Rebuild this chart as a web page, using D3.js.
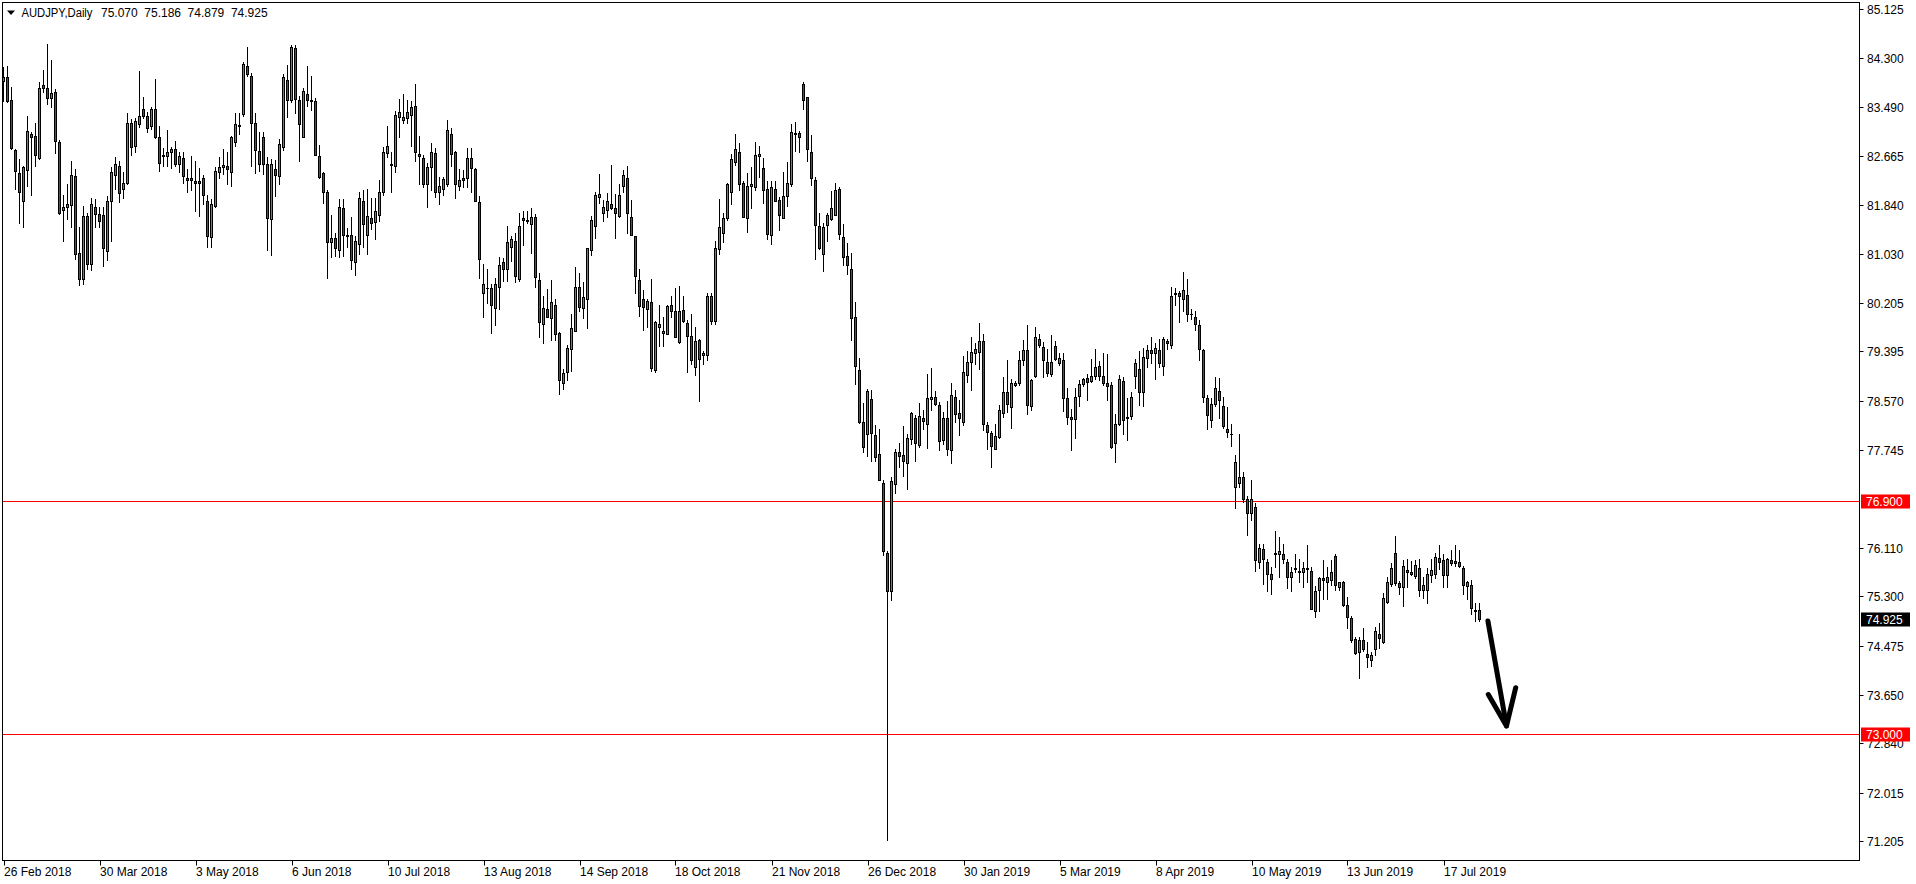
<!DOCTYPE html>
<html><head><meta charset="utf-8">
<script src="https://cdn.jsdelivr.net/npm/d3@7"></script>
<style>html,body{margin:0;padding:0;background:#fff;overflow:hidden}svg{display:block}</style>
</head><body><svg id="c" width="1916" height="884"></svg>
<script>
const symbolName = "AUDJPY,Daily";
const headerOHLC = [75.070, 75.186, 74.879, 74.925];
// [open, high, low, close] per daily bar, 26 Feb 2018 .. 30 Jul 2019
const ohlc = [
[83.92,84.15,83.59,83.98],[83.98,84.17,83.57,83.59],[83.60,83.82,82.78,82.80],[82.76,82.79,82.12,82.41],[82.38,82.62,81.55,82.06],
[81.91,82.50,81.48,82.48],[82.43,83.34,82.17,83.08],[83.04,83.07,82.02,82.99],[83.00,83.21,82.49,82.68],[82.64,83.91,82.62,83.80],
[83.85,84.11,83.74,83.81],[83.81,84.54,83.54,83.63],[83.64,84.28,83.48,83.72],[83.73,83.79,82.71,82.92],[82.90,82.94,81.70,81.71],
[81.77,82.01,81.25,81.81],[81.81,82.20,81.61,81.86],[81.84,82.58,81.47,82.34],[82.33,82.44,80.95,81.03],[81.04,81.47,80.51,80.60],
[80.60,81.83,80.52,81.67],[81.66,81.72,80.77,80.86],[80.86,81.96,80.75,81.86],[81.81,81.95,81.47,81.70],[81.69,81.81,81.47,81.58],
[81.68,81.82,80.82,81.13],[81.08,81.99,80.93,81.92],[81.92,82.48,81.25,82.40],[82.34,82.65,82.12,82.53],[82.49,82.59,81.90,82.04],
[82.12,82.39,81.97,82.21],[82.22,83.38,82.20,83.22],[83.22,83.28,82.68,82.82],[82.83,83.30,82.74,83.25],[83.20,84.09,83.15,83.33],
[83.45,83.66,83.30,83.34],[83.33,83.40,83.06,83.13],[83.16,83.49,83.12,83.46],[83.45,83.96,82.96,82.98],[82.98,83.16,82.42,82.55],
[82.69,82.80,82.50,82.66],[82.67,83.10,82.50,82.73],[82.74,82.82,82.46,82.78],[82.78,82.92,82.50,82.54],[82.53,82.73,82.40,82.66],
[82.63,82.73,82.22,82.33],[82.30,82.44,82.06,82.27],[82.30,82.66,82.10,82.27],[82.25,82.58,81.75,82.22],[82.25,82.46,81.67,82.21],
[82.29,82.35,81.86,82.01],[81.92,82.01,81.14,81.32],[81.31,81.94,81.14,81.86],[81.83,82.48,81.81,82.41],[82.39,82.65,82.30,82.48],
[82.48,82.79,82.36,82.51],[82.50,82.73,82.19,82.45],[82.39,83.00,82.17,82.98],[82.90,83.38,82.83,83.20],[83.19,83.38,83.03,83.16],
[83.36,84.24,83.33,84.20],[84.17,84.49,84.00,84.03],[84.00,84.06,82.49,83.21],[83.21,83.38,82.38,82.77],[82.75,83.07,82.41,82.54],
[82.98,83.06,82.37,82.54],[82.53,82.65,81.10,81.63],[81.61,82.61,81.01,82.53],[82.45,82.60,81.99,82.35],[82.33,82.95,82.20,82.86],
[82.82,84.03,82.77,83.99],[83.94,84.18,83.31,83.61],[83.61,84.52,83.57,84.49],[84.47,84.53,83.39,83.62],[83.60,83.67,82.59,83.20],
[82.98,83.81,82.98,83.75],[83.70,84.17,83.50,83.60],[83.58,84.00,83.44,83.61],[83.58,83.64,82.69,82.69],[82.66,82.85,82.29,82.32],
[82.38,82.40,81.88,82.06],[82.06,82.10,80.63,81.23],[81.22,81.68,80.98,81.30],[81.30,81.38,81.00,81.12],[81.10,81.94,80.98,81.82],
[81.80,81.95,80.99,81.35],[81.34,81.46,81.14,81.32],[81.34,81.64,80.77,80.93],[80.90,81.32,80.68,81.25],[81.20,82.07,81.03,81.96],
[81.91,82.10,81.14,81.53],[81.34,82.11,81.03,81.67],[81.62,81.97,81.44,81.54],[81.56,81.97,81.27,81.74],[81.68,82.26,81.58,82.06],
[82.07,82.82,82.02,82.74],[82.71,83.16,82.65,82.84],[82.54,82.73,82.07,82.51],[82.49,83.42,82.39,83.35],[83.32,83.62,82.99,83.40],
[83.26,83.70,83.21,83.31],[83.30,83.60,83.21,83.40],[83.35,83.59,82.84,83.48],[83.50,83.87,82.59,82.74],[82.70,83.00,82.20,82.67],
[82.64,82.68,82.14,82.19],[82.19,82.55,81.81,82.48],[82.48,82.89,82.09,82.73],[82.71,82.80,81.98,82.06],[82.06,82.31,81.87,82.16],
[82.11,82.31,82.02,82.28],[82.19,83.27,82.16,83.10],[83.03,83.13,82.49,82.70],[82.73,82.75,81.96,82.19],[82.17,82.44,82.09,82.27],
[82.30,82.43,82.15,82.27],[82.29,82.80,82.15,82.63],[82.63,82.80,82.07,82.47],[82.44,82.47,81.91,81.91],[81.89,81.99,80.62,80.94],
[80.37,80.86,79.98,80.52],[80.46,80.78,80.21,80.45],[80.46,80.52,79.70,80.17],[80.13,80.63,79.83,80.52],[80.48,80.97,80.11,80.84],
[80.90,80.96,80.58,80.78],[80.77,81.49,80.58,81.22],[81.15,81.33,80.91,81.27],[81.24,81.37,80.56,80.66],[80.60,81.71,80.58,81.49],
[81.62,81.74,81.18,81.59],[81.59,81.74,81.55,81.58],[81.52,81.80,81.05,81.64],[81.64,81.69,80.48,80.64],[80.59,80.71,79.63,79.88],
[79.86,80.33,79.53,80.13],[80.10,80.44,79.97,79.98],[79.96,80.59,79.58,80.22],[80.17,80.27,79.58,79.68],[79.70,79.72,78.68,78.91],
[78.86,79.10,78.76,79.03],[79.05,79.50,78.91,79.46],[79.43,80.03,79.07,79.78],[79.74,80.81,79.73,80.48],[80.48,80.70,80.08,80.14],
[80.13,80.56,79.96,80.31],[80.28,81.12,79.78,81.12],[81.09,81.66,81.01,81.59],[81.50,82.06,81.30,82.02],[81.98,82.36,81.88,82.03],
[81.71,81.93,81.58,81.81],[81.77,82.05,81.65,81.91],[81.86,82.51,81.78,81.80],[81.79,82.03,81.30,81.72],[81.67,82.20,81.65,82.02],
[82.17,82.43,82.07,82.34],[82.29,82.49,81.37,81.71],[81.64,81.93,81.34,81.35],[81.32,81.33,80.38,80.65],[80.59,80.77,79.99,80.15],
[80.27,80.43,79.75,80.14],[80.10,80.27,79.81,80.24],[80.23,80.61,79.07,79.12],[79.09,79.90,79.05,79.89],[79.81,80.18,79.49,79.85],
[79.70,79.98,79.48,79.74],[79.69,80.17,79.68,80.16],[80.17,80.33,79.98,80.08],[80.08,80.45,79.63,79.63],[79.56,80.49,79.54,80.08],
[80.09,80.33,79.89,79.90],[79.87,79.92,79.05,79.66],[79.65,80.03,79.18,79.26],[79.14,79.80,79.00,79.57],[79.58,79.60,78.57,79.27],
[79.33,79.41,79.19,79.37],[79.33,80.38,79.26,80.33],[80.33,80.38,79.85,79.91],[79.91,81.25,79.86,81.12],[81.11,81.95,81.03,81.47],
[81.38,81.72,81.23,81.63],[81.62,82.21,81.59,82.20],[82.06,82.70,81.87,82.61],[82.56,83.04,82.51,82.78],[82.74,82.88,82.10,82.20],
[82.21,82.24,81.65,81.65],[81.63,82.38,81.40,82.16],[82.16,82.48,81.79,82.20],[82.14,82.90,82.10,82.68],[82.66,82.84,82.32,82.70],
[82.46,82.64,81.88,82.10],[82.11,82.24,81.28,81.36],[81.35,82.25,81.19,82.14],[82.12,82.25,81.91,81.92],[81.93,81.98,81.43,81.68],
[81.63,82.40,81.62,82.00],[82.00,82.57,81.83,82.21],[82.19,83.20,82.16,83.07],[83.03,83.24,82.75,83.05],[83.05,83.09,82.74,82.98],
[83.87,83.91,83.46,83.61],[83.65,83.65,82.58,82.78],[82.73,83.01,82.18,82.29],[82.26,82.32,80.95,81.51],[81.50,81.71,81.11,81.12],
[81.03,81.54,80.74,81.47],[81.51,81.71,81.24,81.68],[81.61,82.08,81.59,81.79],[81.68,82.22,81.68,82.09],[82.12,82.14,81.27,81.36],
[81.31,81.52,80.85,80.98],[81.00,81.21,80.69,80.85],[80.77,81.04,79.59,79.96],[79.98,80.22,78.85,79.15],[79.09,79.29,78.20,78.21],
[78.22,78.54,77.71,77.80],[78.01,78.77,77.64,78.74],[78.60,78.75,77.56,78.03],[78.00,78.16,77.57,77.63],[77.68,78.09,77.24,77.25],
[77.20,77.25,75.99,76.06],[76.03,76.05,71.22,75.39],[75.39,77.29,75.23,77.23],[77.17,77.77,77.02,77.71],[77.72,77.87,77.47,77.65],
[77.66,78.15,77.32,77.56],[77.53,78.01,77.10,77.94],[77.93,78.38,77.85,78.36],[78.28,78.34,77.57,77.87],[77.83,78.54,77.80,78.32],
[78.28,78.41,78.09,78.24],[78.19,79.01,77.78,78.61],[78.60,79.12,78.42,78.63],[78.63,78.74,78.50,78.51],[78.50,78.55,77.75,77.90],
[77.92,78.38,77.85,78.29],[78.28,78.57,77.67,77.77],[77.75,78.86,77.53,78.67],[78.63,78.75,78.22,78.35],[78.36,78.58,77.99,78.29],
[78.21,79.32,78.17,79.05],[79.00,79.40,78.88,79.22],[79.22,79.63,78.75,79.39],[79.37,79.53,79.18,79.44],[79.39,79.87,79.11,79.57],
[79.57,79.68,78.08,78.19],[78.17,78.22,77.76,78.04],[78.03,78.06,77.47,77.82],[77.77,78.19,77.76,77.98],[77.97,78.50,77.94,78.42],
[78.37,78.97,78.30,78.71],[78.71,79.26,78.38,78.51],[78.47,78.94,78.12,78.87],[78.83,78.90,78.81,78.87],[78.87,79.40,78.84,79.26],
[79.25,79.59,79.17,79.42],[79.42,79.84,78.35,78.50],[78.48,78.93,78.42,78.91],[78.98,79.80,78.97,79.64],[79.61,79.69,79.47,79.50],
[79.47,79.55,78.96,79.26],[79.22,79.43,78.98,79.03],[79.02,79.67,78.99,79.22],[79.49,79.57,79.25,79.27],[79.21,79.37,79.17,79.29],
[79.25,79.37,78.40,78.62],[78.62,78.79,78.19,78.30],[78.30,78.44,77.75,78.27],[78.27,78.79,77.94,78.64],[78.65,78.92,78.48,78.85],
[78.85,78.95,78.81,78.94],[78.95,79.01,78.58,78.89],[78.90,79.27,78.88,78.98],[78.98,79.44,78.93,79.13],[79.15,79.23,78.92,78.98],
[78.98,79.37,78.84,78.87],[78.86,79.35,78.58,78.82],[78.83,78.88,77.78,77.80],[77.86,78.35,77.54,78.19],[78.19,79.00,78.17,78.93],
[78.90,78.96,78.01,78.25],[78.30,78.61,77.91,78.28],[78.31,78.72,78.27,78.64],[78.98,79.27,78.79,79.21],[79.11,79.40,78.50,78.71],
[78.71,79.46,78.49,79.30],[79.28,79.51,79.13,79.42],[79.42,79.63,79.21,79.37],[79.37,79.53,78.94,79.45],[79.42,79.61,79.13,79.20],
[79.16,79.63,79.00,79.60],[79.57,79.60,79.44,79.53],[79.51,80.48,79.46,80.32],[80.35,80.45,80.18,80.37],[80.37,80.40,79.88,80.33],
[80.28,80.72,80.08,80.42],[80.34,80.60,79.91,80.02],[80.03,80.11,79.94,80.02],[79.98,80.07,79.76,79.86],[79.83,79.92,79.26,79.43],
[79.42,79.44,78.55,78.63],[78.62,78.66,78.10,78.33],[78.25,78.62,78.13,78.52],[78.51,78.96,78.49,78.78],[78.74,78.95,78.29,78.58],
[78.49,78.64,78.12,78.14],[78.10,78.47,77.96,78.04],[78.02,78.19,77.82,78.01],[77.12,77.66,76.78,77.55],[77.20,78.02,77.12,77.29],
[77.29,77.38,76.88,76.93],[76.93,76.98,76.33,76.69],[76.70,77.24,76.58,76.93],[76.79,76.86,75.73,75.90],[75.87,76.17,75.78,76.10],
[76.09,76.17,75.51,75.93],[75.88,75.93,75.39,75.68],[75.68,75.79,75.33,75.59],[76.01,76.39,75.79,76.03],[76.00,76.29,75.62,76.05],
[76.01,76.18,75.85,75.92],[75.87,75.92,75.44,75.62],[75.62,75.79,75.38,75.70],[75.75,76.00,75.70,75.77],[75.70,75.93,75.53,75.72],
[75.70,75.88,75.45,75.78],[75.76,76.15,75.53,75.77],[75.72,75.79,75.08,75.09],[75.06,75.47,74.96,75.39],[75.40,75.62,75.06,75.60],
[75.60,75.91,75.26,75.57],[75.54,75.79,75.26,75.62],[75.58,75.90,75.49,75.71],[75.98,76.01,75.40,75.48],[75.45,75.54,75.40,75.54],
[75.53,75.56,75.13,75.16],[75.15,75.29,74.77,74.95],[74.93,74.97,74.53,74.57],[74.58,74.61,74.33,74.35],[74.36,74.62,73.93,74.56],
[74.57,74.77,74.39,74.41],[74.34,74.53,74.12,74.28],[74.23,74.37,74.13,74.31],[74.41,74.79,74.32,74.72],[74.66,74.85,74.43,74.60],
[74.53,75.36,74.52,75.27],[75.21,75.62,75.18,75.53],[75.50,75.86,75.47,75.78],[76.02,76.30,75.49,75.52],[75.52,75.55,75.33,75.46],
[75.45,75.91,75.13,75.80],[75.74,75.92,75.46,75.70],[75.70,75.89,75.65,75.68],[75.64,75.90,75.60,75.82],[75.78,75.92,75.30,75.41],
[75.40,75.63,75.27,75.48],[75.40,75.77,75.18,75.67],[75.66,75.92,75.54,75.74],[75.67,76.02,75.60,75.95],[75.94,76.15,75.76,75.88],
[75.91,76.00,75.45,75.66],[75.65,75.94,75.45,75.92],[75.91,76.07,75.82,75.86],[75.89,76.15,75.80,75.85],[75.87,76.08,75.79,75.81],
[75.78,75.81,75.33,75.48],[75.47,75.56,75.25,75.53],[75.49,75.58,75.01,75.10],[75.07,75.19,74.89,75.05],[75.070,75.186,74.879,74.925]
];
const xTickIndex = [0,24,48,72,96,120,144,168,192,216,240,264,288,312,336,360];
const xTickLabels = ["26 Feb 2018","30 Mar 2018","3 May 2018","6 Jun 2018","10 Jul 2018","13 Aug 2018","14 Sep 2018","18 Oct 2018","21 Nov 2018","26 Dec 2018","30 Jan 2019","5 Mar 2019","8 Apr 2019","10 May 2019","13 Jun 2019","17 Jul 2019"];
const yTickValues = [85.125,84.300,83.490,82.665,81.840,81.030,80.205,79.395,78.570,77.745,76.110,75.300,74.475,73.650,72.840,72.015,71.205];
const levelLines = [76.900, 73.000];
const lastPrice = 74.925;
// hand-drawn arrow annotation, in (bar index, price)
const arrowShaft = [[371.1,74.886],[375.75,73.13]];
const arrowHead = [[371.2,73.656],[375.75,73.13],[378.05,73.77]];

const W = 1916, H = 884;
const plot = {left:2.5, right:1859.5, top:2.5, bottom:860.5};
const svg = d3.select("#c");
const font = "'Liberation Sans', Arial, sans-serif";

const x = d3.scaleLinear().domain([0, 369]).range([3.5, 1479.5]);
const y = d3.scaleLinear().domain([71.205, 85.125]).range([841, 9]);

const UP = "#2fae2f", DOWN = "#e31414";

svg.append("rect").attr("width",W).attr("height",H).attr("fill","#fff");

// level lines
const gL = svg.append("g");
levelLines.forEach(v=>{
  const yy = Math.round(y(v)) + 0.5;
  gL.append("line").attr("x1",plot.left).attr("x2",plot.right).attr("y1",yy).attr("y2",yy)
    .attr("stroke","#ff0000").attr("stroke-width",1);
});

// candles
const gC = svg.append("g");
ohlc.forEach((d,i)=>{
  const [o,h,l,c] = d;
  const xc = x(i);
  const yh = Math.round(y(h)), yl = Math.round(y(l));
  gC.append("rect").attr("x",xc-0.5).attr("y",yh).attr("width",1).attr("height",Math.max(1,yl-yh+1)).attr("fill","#000");
  const top = Math.round(y(Math.max(o,c))), bot = Math.round(y(Math.min(o,c)));
  if (bot - top < 1) {
    gC.append("rect").attr("x",xc-1.5).attr("y",top).attr("width",3).attr("height",1).attr("fill","#000");
  } else {
    gC.append("rect").attr("x",xc-1.5).attr("y",top).attr("width",3).attr("height",bot-top+1).attr("fill","#000");
    if (bot-top-1 > 0)
      gC.append("rect").attr("x",xc-0.5).attr("y",top+1).attr("width",1).attr("height",bot-top-1).attr("fill", c>=o?UP:DOWN);
  }
});

// arrow
const line = d3.line().x(p=>x(p[0])).y(p=>y(p[1]));
svg.append("path").attr("d", line(arrowShaft)).attr("fill","none").attr("stroke","#000")
  .attr("stroke-width",5).attr("stroke-linecap","round").attr("stroke-linejoin","round");
svg.append("path").attr("d", line(arrowHead)).attr("fill","none").attr("stroke","#000")
  .attr("stroke-width",5).attr("stroke-linecap","round").attr("stroke-linejoin","round");

// frame
svg.append("rect").attr("x",plot.left).attr("y",plot.top).attr("width",plot.right-plot.left).attr("height",plot.bottom-plot.top)
  .attr("fill","none").attr("stroke","#000").attr("stroke-width",1);

// y axis
const gY = svg.append("g");
yTickValues.forEach(v=>{
  const yy = Math.round(y(v)) + 0.5;
  gY.append("line").attr("x1",plot.right).attr("x2",plot.right+4).attr("y1",yy).attr("y2",yy).attr("stroke","#000");
  gY.append("text").attr("x",1867).attr("y",yy+4).attr("font-family",font).attr("font-size","12px").attr("fill","#000").text(d3.format(".3f")(v));
});
function priceTag(v, bg){
  const yy = y(v);
  gY.append("rect").attr("x",1861).attr("y",Math.round(yy)-6.5).attr("width",49).attr("height",14).attr("fill",bg);
  gY.append("text").attr("x",1866).attr("y",Math.round(yy)+4.5).attr("font-family",font).attr("font-size","12px").attr("fill","#fff").text(d3.format(".3f")(v));
}
levelLines.forEach(v=>priceTag(v,"#ff0000"));
priceTag(lastPrice,"#000");

// x axis
const gX = svg.append("g");
xTickIndex.forEach((idx,k)=>{
  const xx = Math.round(x(idx)) + 0.5;
  gX.append("line").attr("x1",xx).attr("x2",xx).attr("y1",plot.bottom).attr("y2",plot.bottom+5).attr("stroke","#000");
  gX.append("text").attr("x",xx-0.5).attr("y",876).attr("font-family",font).attr("font-size","12px").attr("fill","#000").text(xTickLabels[k]);
});

// header
svg.append("path").attr("d","M7,10.5 L15,10.5 L11,15 Z").attr("fill","#000");
svg.append("text").attr("x",21.5).attr("y",17).attr("font-family",font).attr("font-size","12px").attr("fill","#000")
  .attr("textLength",71).attr("lengthAdjust","spacingAndGlyphs").text(symbolName);
headerOHLC.forEach((v,k)=>{
  svg.append("text").attr("x",101+43.3*k).attr("y",17).attr("font-family",font).attr("font-size","12px").attr("fill","#000").text(d3.format(".3f")(v));
});
</script>
</body></html>
